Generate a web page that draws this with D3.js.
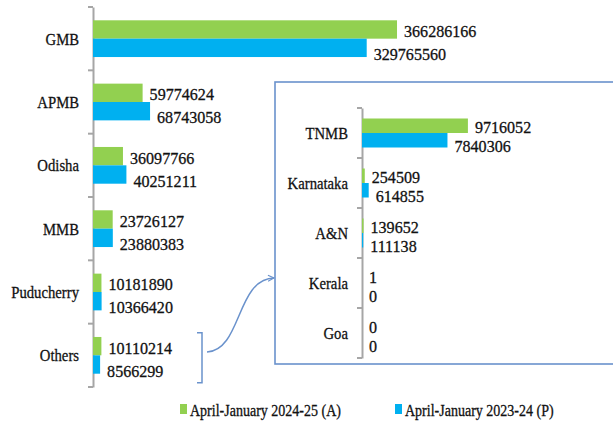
<!DOCTYPE html>
<html>
<head>
<meta charset="utf-8">
<script src="https://cdn.jsdelivr.net/npm/d3@7"></script>
<style>
  body { margin: 0; background: #fff; }
</style>
</head>
<body>
<div id="chart"></div>
<script>
const width = 613;
const height = 421;

// main chart data
const mainCats = ["GMB", "APMB", "Odisha", "MMB", "Puducherry", "Others"];
const main2425 = [366286166, 59774624, 36097766, 23726127, 10181890, 10110214];
const main2324 = [329765560, 68743058, 40251211, 23880383, 10366420, 8566299];

// "Others" broken out in the inset
const insetCats = ["TNMB", "Karnataka", "A&N", "Kerala", "Goa"];
const inset2425 = [9716052, 254509, 139652, 1, 0];
const inset2324 = [7840306, 614855, 111138, 0, 0];

const seriesNames = ["April-January 2024-25 (A)", "April-January 2023-24 (P)"];
const colours = ["#92d050", "#00b0f0"];
const serif = "'Liberation Serif', 'Times New Roman', Times, serif";

const svg = d3
  .select("#chart")
  .append("svg")
  .attr("width", width)
  .attr("height", height);

// text in the picture is a little narrow, so squash it horizontally
function addText(g, txt, x, y, size, sx, anchor) {
  return g
    .append("text")
    .attr("transform", "translate(" + x + "," + y + ") scale(" + sx + ",1)")
    .attr("text-anchor", anchor)
    .attr("font-family", serif)
    .attr("font-size", size)
    .attr("fill", "#111")
    .attr("stroke", "#111")
    .attr("stroke-width", 0.3)
    .text(txt);
}

function drawBars(g, cats, a, b, x, y, labelX) {
  const barH = y.bandwidth() * 0.29;

  // axis line + ticks on the left
  const axis = d3.axisLeft(y).tickSize(0).tickFormat("");
  g.append("g")
    .attr("transform", "translate(" + x.range()[0] + ",0)")
    .call(axis)
    .call((s) => s.select(".domain").attr("stroke", "#a6a6a6").attr("stroke-width", 2));

  const edges = cats.map((c) => y(c)).concat([y.range()[1]]);
  g.selectAll("line.tick-mark")
    .data(edges)
    .enter()
    .append("line")
    .attr("class", "tick-mark")
    .attr("x1", x.range()[0] - 5)
    .attr("x2", x.range()[0])
    .attr("y1", (d) => d)
    .attr("y2", (d) => d)
    .attr("stroke", "#a6a6a6")
    .attr("stroke-width", 2);

  [a, b].forEach((vals, k) => {
    g.selectAll("rect.s" + k)
      .data(vals)
      .enter()
      .append("rect")
      .attr("class", "s" + k)
      .attr("x", x(0))
      .attr("y", (d, i) => y(cats[i]) + y.bandwidth() / 2 - barH + k * barH)
      .attr("width", (d) => x(d) - x(0))
      .attr("height", barH)
      .attr("fill", colours[k]);

    vals.forEach((d, i) => {
      const cy = y(cats[i]) + y.bandwidth() / 2 - barH / 2 + k * barH;
      addText(g, d, x(d) + 7, cy + (k === 0 ? 1.5 : 6) + 6, 17.5, 0.92, "start");
    });
  });

  cats.forEach((c) => {
    addText(g, c, labelX, y(c) + y.bandwidth() / 2 + 6, 17.5, 0.84, "end");
  });
}

// main panel
const xMain = d3.scaleLinear().domain([0, 400000000]).range([93, 93 + 332]);
const yMain = d3.scaleBand().domain(mainCats).range([7, 387]);
drawBars(svg.append("g"), mainCats, main2425, main2324, xMain, yMain, 79);

// inset box
svg.append("rect")
  .attr("x", 275)
  .attr("y", 82)
  .attr("width", 360)
  .attr("height", 282)
  .attr("fill", "none")
  .attr("stroke", "#6a92cc")
  .attr("stroke-width", 1.6);

const xInset = d3.scaleLinear().domain([0, 10000000]).range([362, 362 + 109]);
const yInset = d3.scaleBand().domain(insetCats).range([108, 358]);
drawBars(svg.append("g"), insetCats, inset2425, inset2324, xInset, yInset, 348);

// bracket around "Others" and the arrow to the inset
const bTop = yMain("Others") + 9;
const bBot = yMain("Others") + 59;
svg.append("path")
  .attr("d", "M197," + bTop + "H202V" + bBot + "H197")
  .attr("fill", "none")
  .attr("stroke", "#6a92cc")
  .attr("stroke-width", 1.5);

svg.append("defs")
  .append("marker")
  .attr("id", "arrow")
  .attr("viewBox", "0 0 10 10")
  .attr("refX", 9)
  .attr("refY", 5)
  .attr("markerWidth", 5)
  .attr("markerHeight", 5)
  .attr("orient", "auto")
  .append("path")
  .attr("d", "M1,1L9,5L1,9")
  .attr("fill", "none")
  .attr("stroke", "#6a92cc")
  .attr("stroke-width", 1.5);

svg.append("path")
  .attr("d", "M207,352C242,350 236,279 274,278")
  .attr("fill", "none")
  .attr("stroke", "#6a92cc")
  .attr("stroke-width", 1.5)
  .attr("marker-end", "url(#arrow)");

// legend
const legendX = [180, 395];
seriesNames.forEach((name, i) => {
  svg.append("rect")
    .attr("x", legendX[i])
    .attr("y", 404)
    .attr("width", 7)
    .attr("height", 10)
    .attr("fill", colours[i]);
  addText(svg, name, legendX[i] + 10, 416, 16.5, 0.85, "start");
});
</script>
</body>
</html>
